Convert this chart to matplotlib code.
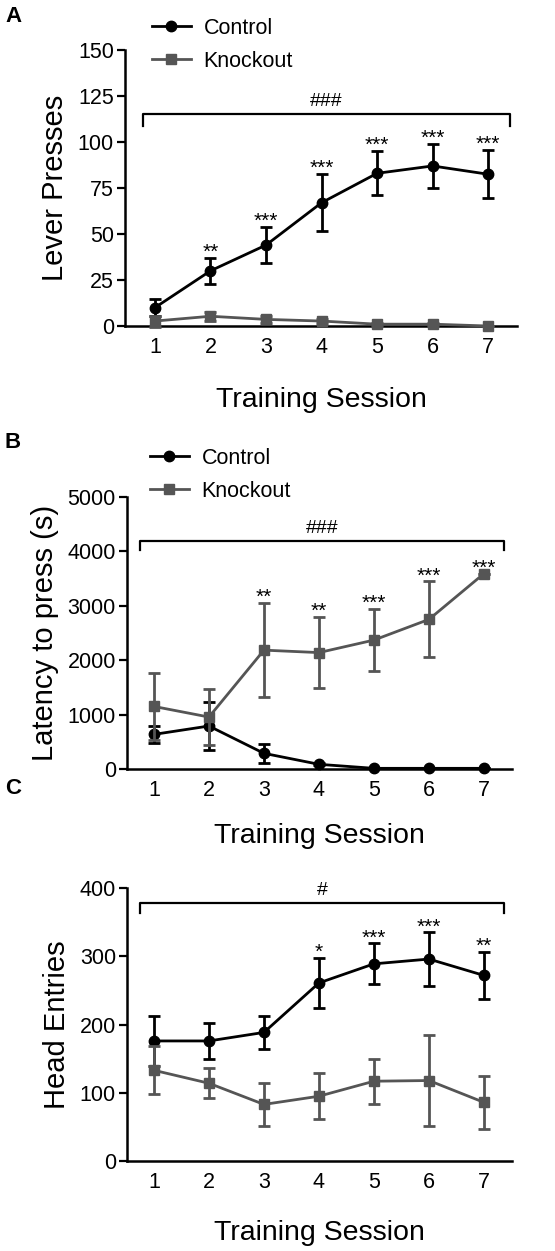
import matplotlib
matplotlib.use("Agg")
import matplotlib.pyplot as plt
from matplotlib.lines import Line2D

plt.rcParams['font.family'] = ['Liberation Sans', 'DejaVu Sans']

sessions = [1, 2, 3, 4, 5, 6, 7]
groups = ["Control", "Knockout"]

# panel A - lever presses
lever_ctrl = [10, 30, 44, 67, 83, 87, 82.5]
lever_ctrl_sem = [4.5, 7, 10, 15.5, 12, 12, 13]
lever_ko = [2.7, 5.3, 3.6, 2.7, 1, 1, 0]
lever_ko_sem = [3, 2.5, 2, 1, 0.8, 0.8, 0]
lever_stars = ["", "**", "***", "***", "***", "***", "***"]

# panel B - latency
lat_ctrl = [636, 790, 288, 86, 12, 12, 12]
lat_ctrl_sem = [160, 440, 170, 20, 0, 0, 0]
lat_ko = [1150, 955, 2185, 2140, 2370, 2750, 3592]
lat_ko_sem = [620, 515, 870, 650, 575, 700, 0]
lat_stars = ["", "", "**", "**", "***", "***", "***"]

# panel C - head entries
head_ctrl = [176, 176, 188.5, 261, 289, 296, 272]
head_ctrl_sem = [37, 27, 24.5, 37, 30, 39, 34]
head_ko = [133, 114, 83, 95, 117, 118, 86]
head_ko_sem = [35, 22, 31, 34, 33, 67, 39]
head_stars = ["", "", "", "*", "***", "***", "**"]

black = "#000000"
gray = "#555555"

fig = plt.figure(figsize=(5.55, 12.51), dpi=100)


def panel(rect, ctrl, ctrl_sem, ko, ko_sem, stars, star_from, ylim, yticks, ylabel,
          bracket, hashes, xlim, xlabelpad, legend_pos=None):
    ax = fig.add_axes(rect)
    ax.errorbar(sessions, ctrl, yerr=ctrl_sem, color=black, marker="o", ms=7.5,
                lw=2, elinewidth=2, capsize=4, capthick=2,
                clip_on=False, zorder=3)
    ax.errorbar(sessions, ko, yerr=ko_sem, color=gray, marker="s", ms=7.5,
                lw=2, elinewidth=2, capsize=4, capthick=2,
                clip_on=False, zorder=4)
    # significance stars above the relevant series
    for i, s in enumerate(stars):
        if not s:
            continue
        if star_from == "ctrl":
            top = ctrl[i] + ctrl_sem[i]
        else:
            top = ko[i] + ko_sem[i]
        ax.annotate(s, (sessions[i], top), xytext=(0, 0), textcoords="offset points",
                    ha="center", va="baseline", fontsize=15)
    # bracket over all sessions
    x0, x1, ylow, yhigh = bracket
    ax.plot([x0, x0, x1, x1], [ylow, yhigh, yhigh, ylow], color="black", lw=1.6,
            clip_on=False)
    ax.annotate(hashes, ((x0 + x1) / 2, yhigh), xytext=(0, 9), textcoords="offset points",
                ha="center", va="center", fontsize=14)

    ax.set_xlim(*xlim)
    ax.set_ylim(*ylim)
    ax.set_yticks(yticks)
    ax.set_xticks(sessions)
    ax.tick_params(axis="x", length=0, labelsize=15.5, pad=8)
    ax.tick_params(axis="y", length=6, width=1.6, labelsize=15.5, pad=2)
    for side in ["top", "right"]:
        ax.spines[side].set_visible(False)
    for side in ["left", "bottom"]:
        ax.spines[side].set_linewidth(1.8)
    ax.set_ylabel(ylabel, fontsize=21, labelpad=6)
    ax.set_xlabel("Training Session", fontsize=20.5, labelpad=xlabelpad)
    if legend_pos is not None:
        handles = [Line2D([], [], color=black, marker="o", ms=7.5, lw=2),
                   Line2D([], [], color=gray, marker="s", ms=7.5, lw=2)]
        ax.legend(handles, groups, loc="upper left", bbox_to_anchor=legend_pos,
                  bbox_transform=fig.transFigure, frameon=False, fontsize=15.5,
                  handlelength=1.8, handletextpad=0.6, labelspacing=0.55,
                  borderaxespad=0, borderpad=0)
    return ax


axA = panel([0.2252, 0.7394, 0.7063, 0.2206], lever_ctrl, lever_ctrl_sem, lever_ko,
            lever_ko_sem, lever_stars, "ctrl", (0, 150), [0, 25, 50, 75, 100, 125, 150],
            "Lever Presses", (0.78, 7.4, 108.5, 115), "###", (0.46, 7.52), 21,
            legend_pos=(152 / 555, 1 - 18 / 1251))

axB = panel([0.2288, 0.3853, 0.6937, 0.2174], lat_ctrl, lat_ctrl_sem, lat_ko,
            lat_ko_sem, lat_stars, "ko", (0, 5000), [0, 1000, 2000, 3000, 4000, 5000],
            "Latency to press (s)", (0.75, 7.36, 4020, 4190), "###", (0.51, 7.51), 16,
            legend_pos=(150 / 555, 1 - 448 / 1251))

axC = panel([0.2288, 0.0719, 0.6937, 0.2182], head_ctrl, head_ctrl_sem, head_ko,
            head_ko_sem, head_stars, "ctrl", (0, 400), [0, 100, 200, 300, 400],
            "Head Entries", (0.75, 7.36, 364, 378), "#", (0.51, 7.51), 19)

fig.text(5 / 555, 1 - 16 / 1251, "A", fontsize=16, fontweight="bold", va="center")
fig.text(5 / 555, 1 - 443 / 1251, "B", fontsize=16, fontweight="bold", va="center")
fig.text(5 / 555, 1 - 788 / 1251, "C", fontsize=16, fontweight="bold", va="center")

fig.savefig("out.png", dpi=100)
